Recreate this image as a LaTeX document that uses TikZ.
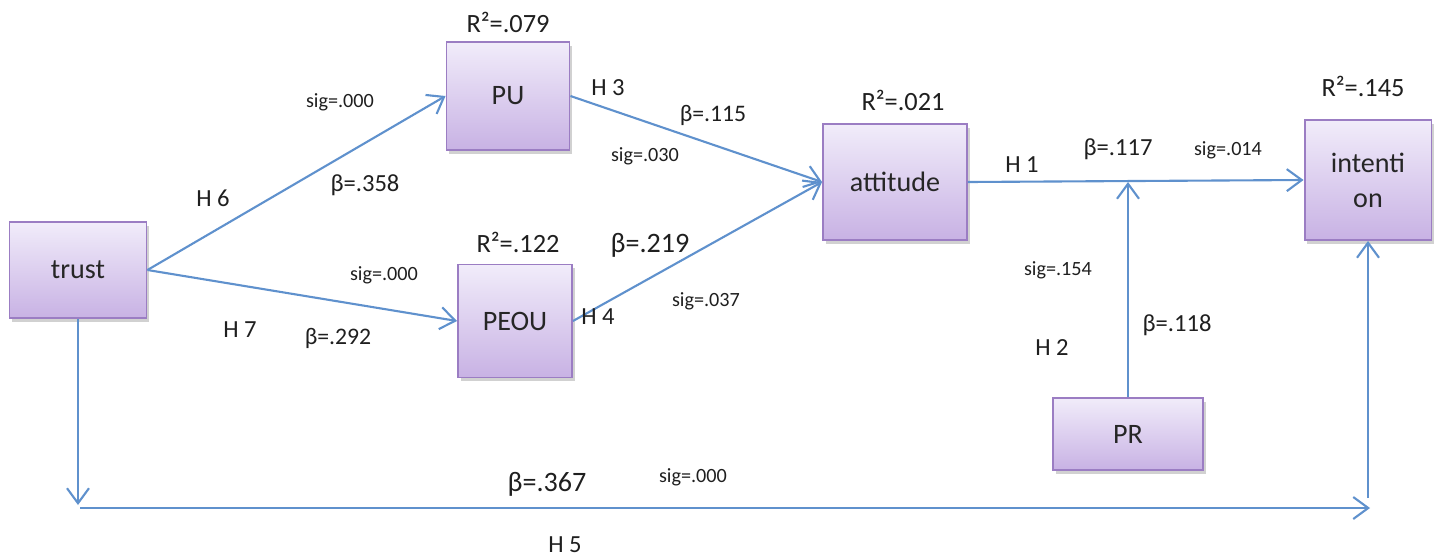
\documentclass[tikz,border=0pt]{standalone}
\usepackage{fontspec}
\setmainfont{Carlito}
\usetikzlibrary{arrows.meta,shadows}
\definecolor{lineblue}{RGB}{95,145,205}
\definecolor{boxtop}{RGB}{241,236,250}
\definecolor{boxbot}{RGB}{200,178,228}
\definecolor{boxdraw}{RGB}{155,125,195}
\begin{document}
\begin{tikzpicture}[x=0.02cm,y=-0.02cm,
  construct/.style={draw=boxdraw, line width=1.1pt, top color=boxtop, bottom color=boxbot,
    drop shadow={shadow xshift=1.5pt, shadow yshift=-2pt, opacity=0.3, fill=black!60},
    font=\fontsize{16}{20}\selectfont, text=black!85, align=center, inner sep=0pt},
  link/.style={draw=lineblue, line width=1.2pt,
    -{Straight Barb[length=0.3cm,width=0.44cm,line width=1.2pt]}},
  lbl/.style={inner sep=0pt, font=\fontsize{#1}{#1}\selectfont, text=black!88}
]
\useasboundingbox (0,0) rectangle (1435,558);

% constructs
\node[construct, minimum width=2.74cm, minimum height=1.92cm] (trust) at (78,270) {trust};
\node[construct, minimum width=2.46cm, minimum height=2.16cm] (PU) at (508,96) {PU};
\node[construct, minimum width=2.28cm, minimum height=2.26cm] (PEOU) at (515,321) {PEOU};
\node[construct, minimum width=2.88cm, minimum height=2.32cm] (attitude) at (895,182) {attitude};
\node[construct, minimum width=2.54cm, minimum height=2.40cm] (intention) at (1368,180) {intenti\\on};
\node[construct, minimum width=3.0cm, minimum height=1.44cm] (PR) at (1128,434) {PR};

% connectors
\draw[link] (trust.east) -- (PU.west);
\draw[link] (trust.east) -- (PEOU.west);
\draw[link] (PU.east) -- (attitude.west);
\draw[link] (PEOU.east) -- (attitude.west);
\draw[link] (attitude.east) -- (intention.west);
\coordinate (modtip) at (1128,182);
\draw[link] (PR.north) -- (modtip);
\coordinate (tdown) at (78,505);
\coordinate (hstart) at (80,508);
\coordinate (hend) at (1370,508);
\coordinate (vstart) at (1368,498);
\draw[link] (trust.south) -- (tdown);
\draw[link] (hstart) -- (hend);
\draw[link] (vstart) -- (intention.south);

% R squared
\node[lbl=15] (r1) at (508,22) {R²=.079};
\node[lbl=15] (r2) at (518,242) {R²=.122};
\node[lbl=15] (r3) at (903,100) {R²=.021};
\node[lbl=15] (r4) at (1363,86) {R²=.145};

% trust -> PU
\node[lbl=11.5] (s6) at (340,102) {sig=.000};
\node[lbl=14] (h6) at (213,198) {H 6};
\node[lbl=14] (b6) at (365,185) {β=.358};
% trust -> PEOU
\node[lbl=11.5] (s7) at (384,275) {sig=.000};
\node[lbl=14] (h7) at (240,330) {H 7};
\node[lbl=13.5] (b7) at (338,338) {β=.292};
% PU -> attitude
\node[lbl=14] (h3) at (608,88) {H 3};
\node[lbl=13.5] (b3) at (713,115) {β=.115};
\node[lbl=11.5] (s3) at (645,156) {sig=.030};
% PEOU -> attitude
\node[lbl=16] (b4) at (650,245) {β=.219};
\node[lbl=14] (h4) at (598,317) {H 4};
\node[lbl=11.5] (s4) at (706,301) {sig=.037};
% attitude -> intention
\node[lbl=14] (h1) at (1022,165) {H 1};
\node[lbl=14] (b1) at (1118,149) {β=.117};
\node[lbl=11.5] (s1) at (1228,150) {sig=.014};
% PR
\node[lbl=11.5] (s2) at (1058,270) {sig=.154};
\node[lbl=14] (b2) at (1177,325) {β=.118};
\node[lbl=14] (h2) at (1052,348) {H 2};
% trust -> intention
\node[lbl=16] (b5) at (547,484) {β=.367};
\node[lbl=11.5] (s5) at (693,477) {sig=.000};
\node[lbl=14] (h5) at (565,545) {H 5};
\end{tikzpicture}
\end{document}
